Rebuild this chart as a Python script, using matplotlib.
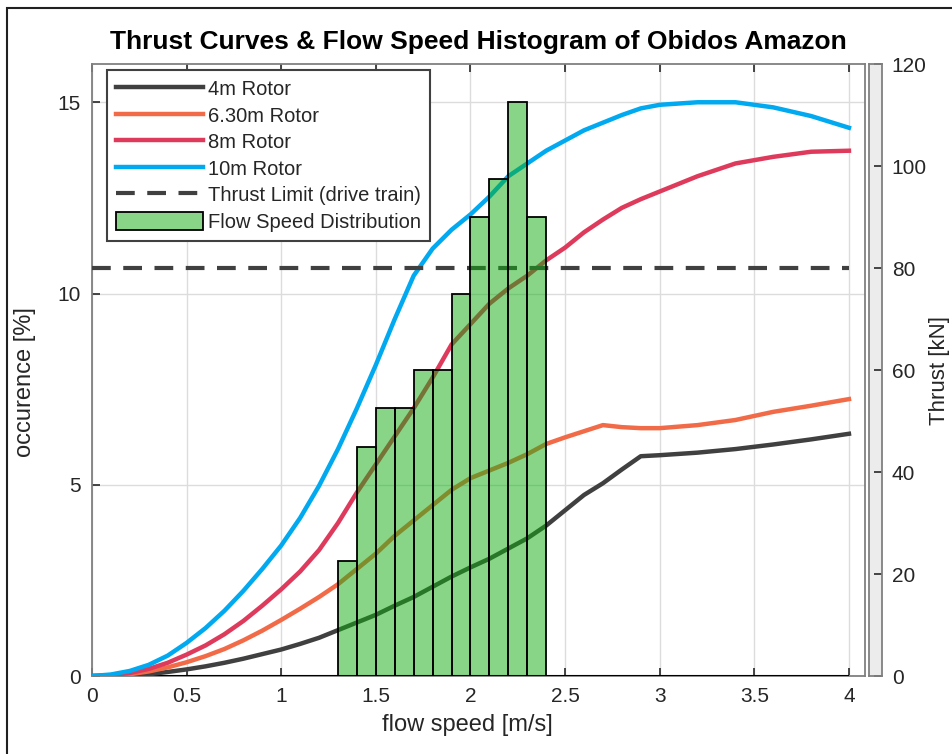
import matplotlib
matplotlib.use("Agg")
import matplotlib.pyplot as plt
from matplotlib.patches import Rectangle

plt.rcParams['font.family'] = ['Liberation Sans', 'DejaVu Sans']

# -----------------------------
# data
# -----------------------------
speed = [0, 0.1, 0.2, 0.3, 0.4, 0.5, 0.6, 0.7, 0.8, 0.9, 1.0, 1.1, 1.2, 1.3,
         1.4, 1.5, 1.6, 1.7, 1.8, 1.9, 2.0, 2.1, 2.2, 2.3, 2.4, 2.5, 2.6, 2.7,
         2.8, 2.9, 3.0, 3.2, 3.4, 3.6, 3.8, 4.0]

thrust_4m = [0, 0, 0.1, 0.35, 0.8, 1.3, 1.9, 2.6, 3.4, 4.3, 5.2, 6.3, 7.5, 9,
             10.5, 12, 13.8, 15.5, 17.5, 19.5, 21.3, 23, 25, 27, 29.5, 32.5, 35.5, 37.8,
             40.5, 43.1, 43.3, 43.8, 44.5, 45.4, 46.4, 47.5]
thrust_630m = [0, 0.1, 0.35, 0.9, 1.7, 2.7, 3.9, 5.3, 7, 8.9, 11, 13.2, 15.5, 18,
               21, 24, 27.5, 30.5, 33.5, 36.5, 38.8, 40.3, 41.8, 43.5, 45.5, 46.8, 48, 49.2,
               48.8, 48.6, 48.6, 49.2, 50.2, 51.8, 53, 54.3]
thrust_8m = [0, 0.15, 0.6, 1.4, 2.6, 4.2, 6, 8.2, 10.8, 13.8, 17, 20.5, 24.7, 30,
             36, 41.5, 47, 52.5, 58.5, 65, 69, 73, 76, 78.5, 81.5, 84, 87, 89.5,
             91.8, 93.5, 95, 98, 100.5, 101.8, 102.8, 103]
thrust_10m = [0, 0.3, 1.0, 2.2, 4.0, 6.5, 9.4, 12.8, 16.7, 21.0, 25.6, 31.0, 37.3, 44.5,
              52.5, 61, 70, 78.5, 83.8, 87.5, 90.5, 94, 98, 100.5, 103, 105, 107, 108.5,
              110, 111.3, 112, 112.5, 112.5, 111.5, 109.8, 107.5]

thrust_limit = 80

bin_left = [1.3, 1.4, 1.5, 1.6, 1.7, 1.8, 1.9, 2.0, 2.1, 2.2, 2.3]
occurence = [3, 6, 7, 7, 8, 8, 10, 12, 13, 15, 12]
bin_width = 0.1

x_ticks = [0, 0.5, 1, 1.5, 2, 2.5, 3, 3.5, 4]
y_ticks = [0, 5, 10, 15]
kn_ticks = [0, 20, 40, 60, 80, 100, 120]

txt = '#262626'
spine_c = '#808080'

fig = plt.figure(figsize=(9.53, 7.54), dpi=100)
ax = fig.add_axes([0.0965, 0.1034, 0.8112, 0.8117])

# -----------------------------
# main axis (occurence %)
# -----------------------------
ax.set_xlim(0, 4.085)
ax.set_ylim(0, 16)
ax.set_xticks(x_ticks)
ax.set_xticklabels(['0', '0.5', '1', '1.5', '2', '2.5', '3', '3.5', '4'])
ax.set_yticks(y_ticks)
ax.grid(True, color='#dcdcdc', lw=1)
ax.set_axisbelow(True)
ax.tick_params(direction='in', top=True, right=True, length=6, width=1.2,
               labelsize=15, colors=txt, pad=8)
for s in ax.spines.values():
    s.set_color(spine_c)
    s.set_linewidth(1.3)
ax.hlines(0, x_ticks[0], x_ticks[-1], color='black', lw=1.5, zorder=5)
ax.set_xlabel('flow speed [m/s]', fontsize=17, color=txt)
ax.xaxis.set_label_coords(0.485, -0.062)
ax.set_ylabel('occurence [%]', fontsize=17, color=txt)
ax.yaxis.set_label_coords(-0.072, 0.48)
ax.set_title('Thrust Curves & Flow Speed Histogram of Obidos Amazon',
             fontsize=19, fontweight='bold', color='black', pad=11)

# -----------------------------
# thrust curves (kN)
# -----------------------------
axT = ax.twinx()
axT.set_ylim(0, 120)
axT.set_axis_off()
l1, = axT.plot(speed, thrust_4m, color='#404040', lw=3.2, label='4m Rotor')
l2, = axT.plot(speed, thrust_630m, color='#F26B48', lw=3.2, label='6.30m Rotor')
l3, = axT.plot(speed, thrust_8m, color='#DE3A5C', lw=3.2, label='8m Rotor')
l4, = axT.plot(speed, thrust_10m, color='#00A9F0', lw=3.2, label='10m Rotor')
l5 = axT.axhline(thrust_limit, xmin=0, xmax=4 / 4.085, color='#404040', lw=3,
                 dashes=(4.5, 3), label='Thrust Limit (drive train)')

# -----------------------------
# histogram on top
# -----------------------------
axH = ax.twinx()
axH.set_ylim(0, 16)
axH.set_axis_off()
bars = axH.bar(bin_left, occurence, width=bin_width, align='edge',
               facecolor=(0.07, 0.68, 0.07, 0.5), edgecolor='black', lw=1.3,
               label='Flow Speed Distribution')

leg = axH.legend(handles=[l1, l2, l3, l4, l5, bars], loc='upper left',
                 bbox_to_anchor=(0.02, 0.99), borderaxespad=0, fontsize=14.5,
                 handlelength=4.3, handleheight=1.0, handletextpad=0.25,
                 labelspacing=0.33, fancybox=False, framealpha=1,
                 edgecolor='#404040', borderpad=0.45)
leg.get_frame().set_linewidth(1.5)
for t in leg.get_texts():
    t.set_color(txt)

# -----------------------------
# right thrust axis band
# -----------------------------
axR = fig.add_axes([0.9119, 0.1034, 0.0135, 0.8117])
axR.set_facecolor('#ececec')
axR.set_ylim(0, 120)
axR.set_xticks([])
axR.yaxis.tick_right()
axR.set_yticks(kn_ticks)
axR.tick_params(direction='in', length=6, width=1.2, labelsize=15, colors=txt, pad=7)
for s in axR.spines.values():
    s.set_color(spine_c)
    s.set_linewidth(1.3)
fig.text(0.986, 0.509, 'Thrust [kN]', rotation=90, ha='center', va='center',
         fontsize=16, color=txt)

# figure frame
fig.patches.append(Rectangle((0.007, -0.02), 1.2, 1.009, transform=fig.transFigure,
                             fill=False, edgecolor='#202020', lw=1.5))

fig.savefig('out.png', dpi=100)
